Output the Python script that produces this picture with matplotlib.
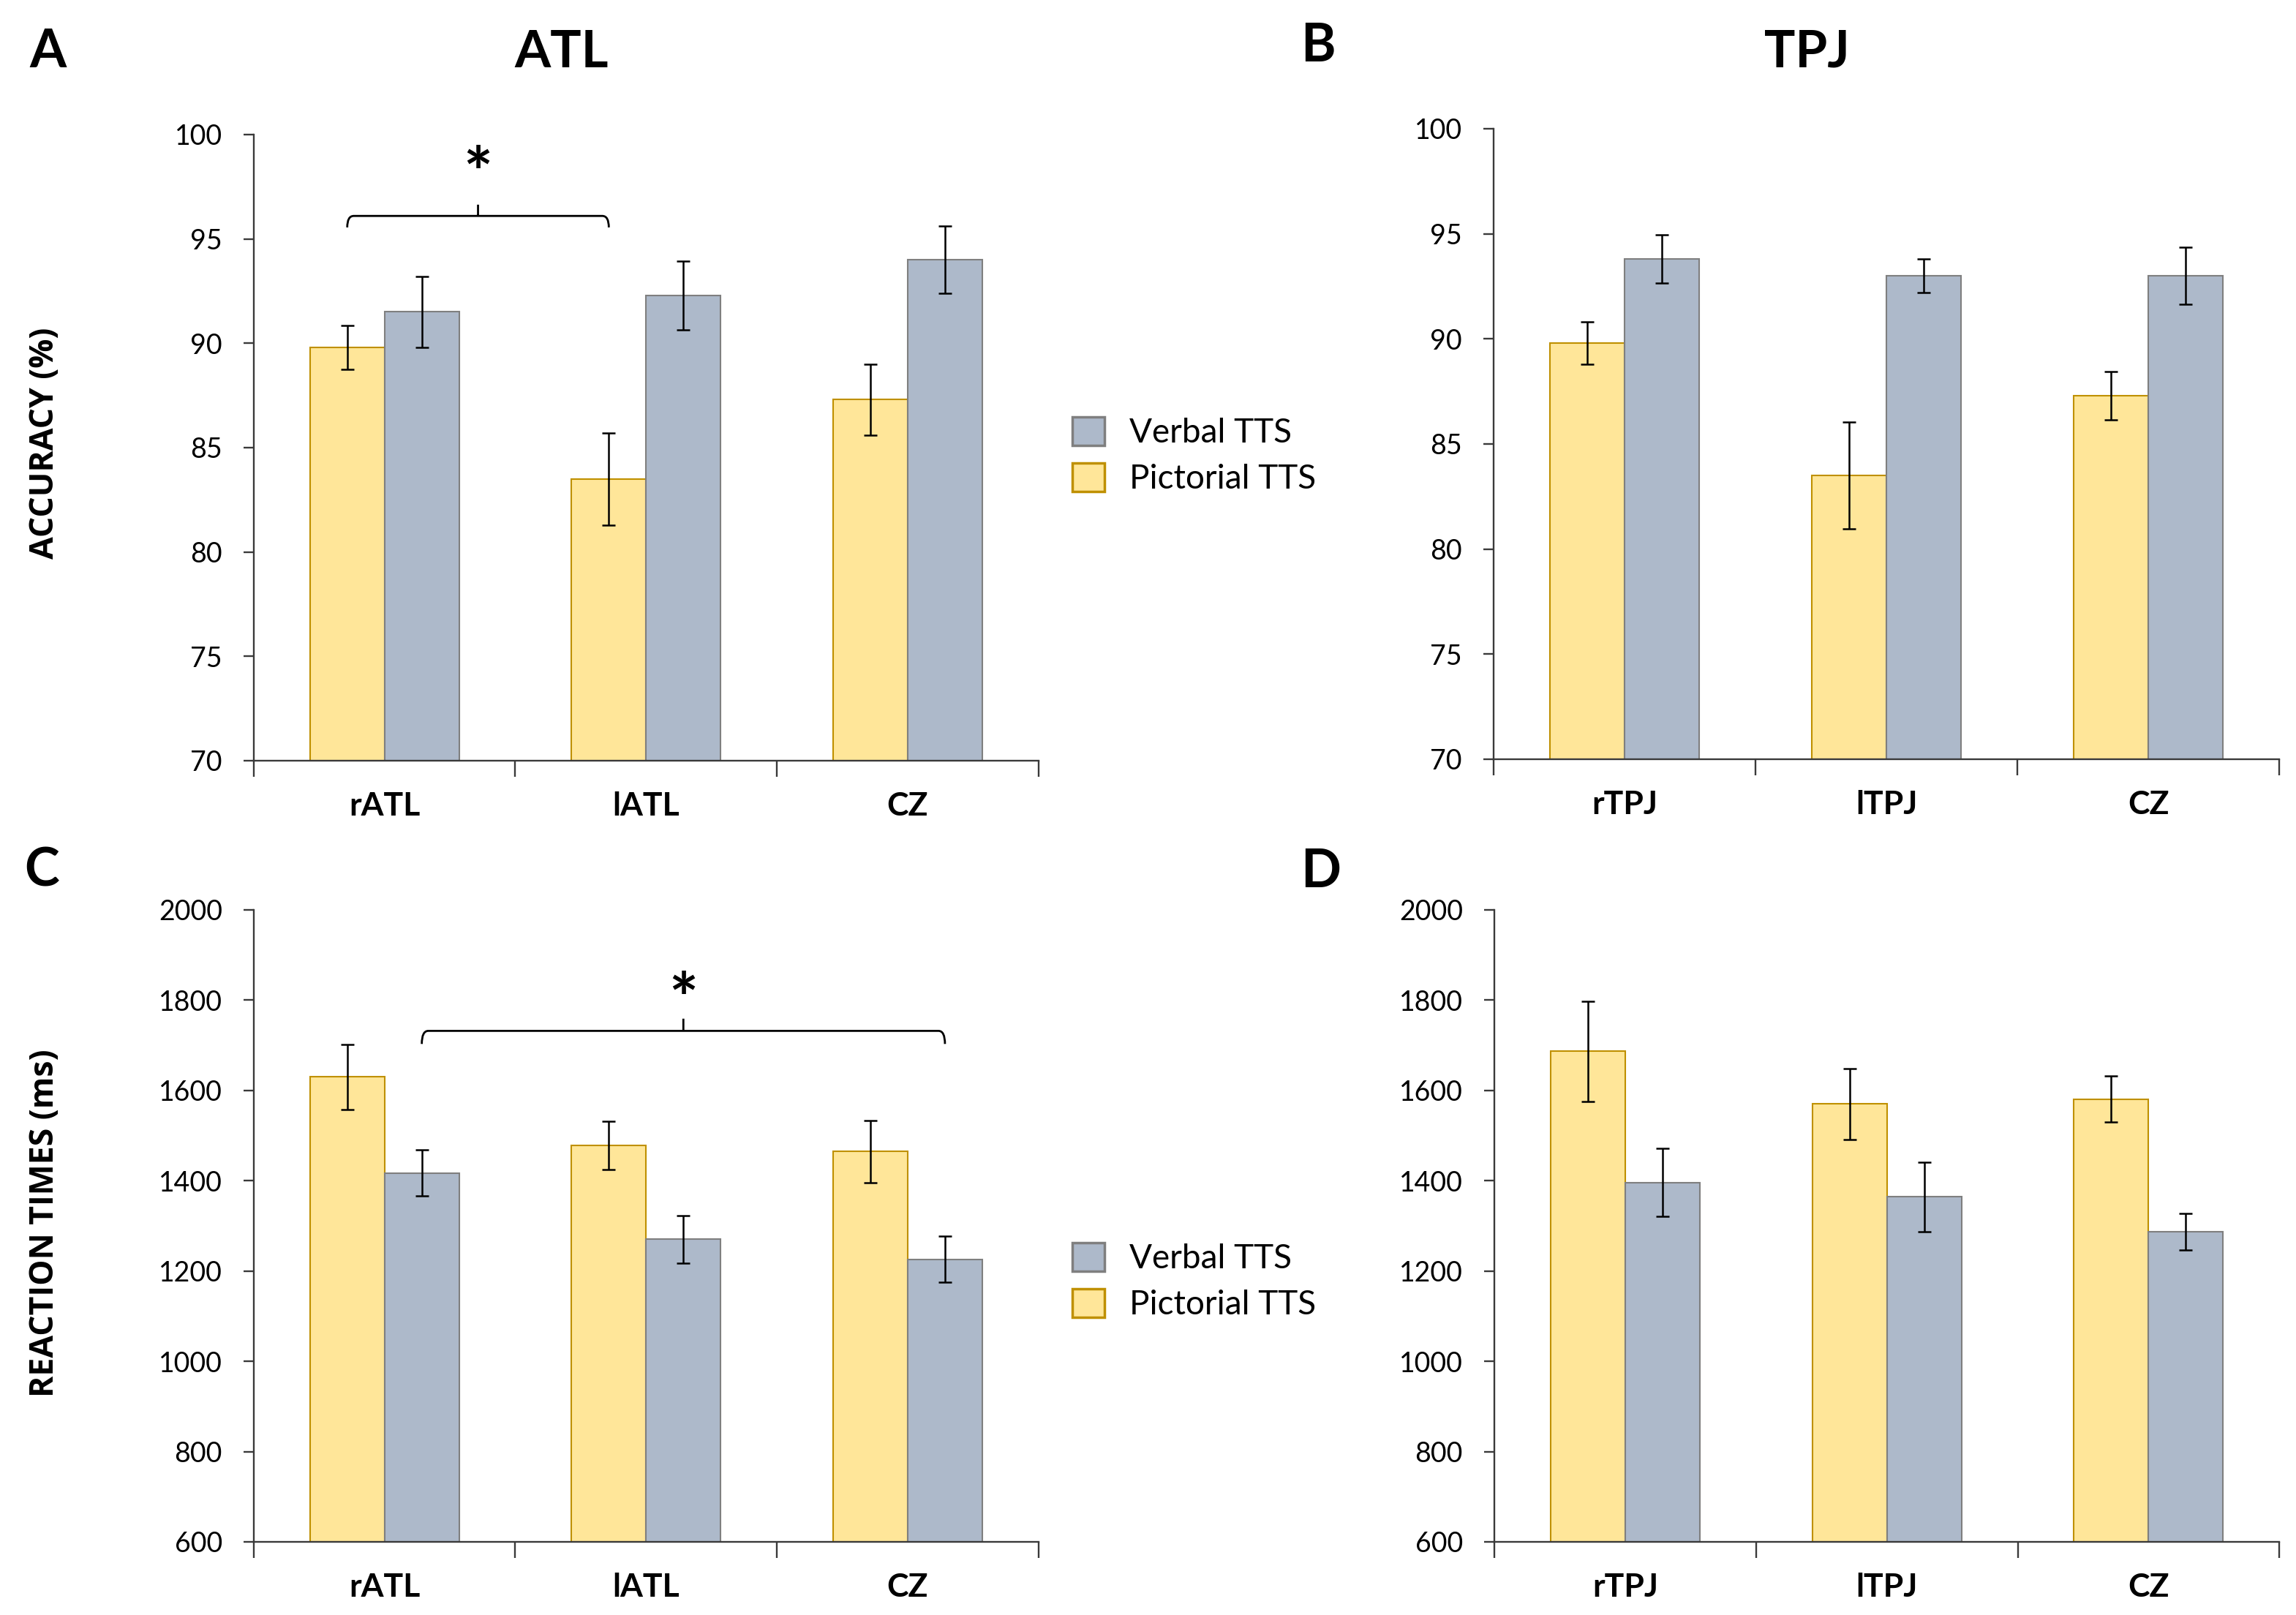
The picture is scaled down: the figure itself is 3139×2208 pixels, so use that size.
import numpy as np
import matplotlib.pyplot as plt
from matplotlib.patches import Patch, PathPatch
from matplotlib.path import Path

# categories
cats_atl = ['rATL', 'lATL', 'CZ']
cats_tpj = ['rTPJ', 'lTPJ', 'CZ']
series_names = ['Verbal TTS', 'Pictorial TTS']

# accuracy (%), mean and error
acc_atl_pict = [89.8, 83.5, 87.3]
acc_atl_pict_err = [1.05, 2.2, 1.7]
acc_atl_verb = [91.5, 92.3, 94.0]
acc_atl_verb_err = [1.7, 1.65, 1.6]

acc_tpj_pict = [89.8, 83.5, 87.3]
acc_tpj_pict_err = [1.0, 2.55, 1.15]
acc_tpj_verb = [93.8, 93.0, 93.0]
acc_tpj_verb_err = [1.15, 0.8, 1.37]

# reaction times (ms)
rt_atl_pict = [1630, 1478, 1465]
rt_atl_pict_err = [72, 53, 69]
rt_atl_verb = [1417, 1270, 1226]
rt_atl_verb_err = [51, 52, 51]

rt_tpj_pict = [1687, 1570, 1581]
rt_tpj_pict_err = [111, 79, 51]
rt_tpj_verb = [1396, 1364, 1287]
rt_tpj_verb_err = [75, 77, 40]

# colours
pict_fill, pict_edge = '#FFE699', '#BF9000'
verb_fill, verb_edge = '#ADB9CA', '#7F7F7F'
axis_col = '#3a3a3a'

plt.rcParams['font.family'] = ['Lato', 'DejaVu Sans']

fig = plt.figure(figsize=(31.39, 22.08), dpi=100)

bar_w = 0.285


def draw_panel(rect, cats, pict, pict_err, verb, verb_err, ylim, yticks):
    ax = fig.add_axes(rect)
    x = np.arange(len(cats)) + 0.5
    ax.bar(x - bar_w / 2, pict, bar_w, color=pict_fill,
           edgecolor=pict_edge, linewidth=1.5, zorder=2, label=series_names[1])
    ax.bar(x + bar_w / 2, verb, bar_w, color=verb_fill,
           edgecolor=verb_edge, linewidth=1.5, zorder=2, label=series_names[0])
    for xs, ys, es in [(x - bar_w / 2, pict, pict_err), (x + bar_w / 2, verb, verb_err)]:
        ax.errorbar(xs, ys, yerr=es, fmt='none', ecolor='black',
                    elinewidth=1.8, capsize=6.5, capthick=1.8, zorder=3)
    ax.set_xlim(0, len(cats))
    ax.set_ylim(*ylim)
    ax.set_yticks(yticks)
    ax.set_xticks(np.arange(len(cats) + 1))
    ax.set_xticklabels([])
    ax.set_xticks(x, minor=True)
    ax.set_xticklabels(cats, minor=True, fontsize=32, fontweight='bold')
    ax.tick_params(axis='x', which='minor', length=0, pad=30)
    ax.tick_params(axis='x', which='major', length=16, width=1.7, color=axis_col)
    ax.tick_params(axis='y', length=10, width=1.7, color=axis_col,
                   labelsize=27, pad=21)
    for s in ['top', 'right']:
        ax.spines[s].set_visible(False)
    for s in ['left', 'bottom']:
        ax.spines[s].set_color(axis_col)
        ax.spines[s].set_linewidth(1.7)
    ax.spines['left'].set_zorder(4)
    return ax


def bracket(ax, x0, x1, y_end, y_h, y_top, y_star):
    # bracket with rounded ends and a straight spike in the middle
    xm = (x0 + x1) / 2
    rx = 0.025
    verts = [(x0, y_end), (x0, y_h), (x0 + rx, y_h),
             (x1 - rx, y_h), (x1, y_h), (x1, y_end),
             (xm, y_h), (xm, y_top)]
    codes = [Path.MOVETO, Path.CURVE3, Path.CURVE3,
             Path.LINETO, Path.CURVE3, Path.CURVE3,
             Path.MOVETO, Path.LINETO]
    ax.add_patch(PathPatch(Path(verts, codes), facecolor='none', edgecolor='black',
                           lw=2.0, zorder=5, clip_on=False))
    ax.text(xm, y_star, '*', ha='center', va='center', fontsize=68,
            fontweight='bold', color='black')


axA = draw_panel([0.1105, 0.529, 0.3418, 0.3877], cats_atl,
                 acc_atl_pict, acc_atl_pict_err, acc_atl_verb, acc_atl_verb_err,
                 (70, 100), np.arange(70, 101, 5))
axB = draw_panel([0.6505, 0.5299, 0.3422, 0.3904], cats_tpj,
                 acc_tpj_pict, acc_tpj_pict_err, acc_tpj_verb, acc_tpj_verb_err,
                 (70, 100), np.arange(70, 101, 5))
axC = draw_panel([0.1105, 0.0453, 0.3418, 0.3913], cats_atl,
                 rt_atl_pict, rt_atl_pict_err, rt_atl_verb, rt_atl_verb_err,
                 (600, 2000), np.arange(600, 2001, 200))
axD = draw_panel([0.6508, 0.0453, 0.3420, 0.3913], cats_tpj,
                 rt_tpj_pict, rt_tpj_pict_err, rt_tpj_verb, rt_tpj_verb_err,
                 (600, 2000), np.arange(600, 2001, 200))

# significance brackets
bracket(axA, 0.5 - bar_w / 2, 1.5 - bar_w / 2, 95.55, 96.1, 96.64, 97.95)
bracket(axC, 0.5 + bar_w / 2, 2.5 + bar_w / 2, 1703, 1732, 1759, 1795)

# legends
handles = [Patch(facecolor=verb_fill, edgecolor=verb_edge, linewidth=2.5, label=series_names[0]),
           Patch(facecolor=pict_fill, edgecolor=pict_edge, linewidth=2.5, label=series_names[1])]
for ax, y in [(axA, 1 - 623 / 2208), (axC, 1 - 1752 / 2208)]:
    ax.legend(handles=handles, loc='center left', bbox_to_anchor=(1466 / 3139, y),
              bbox_transform=fig.transFigure, frameon=False, fontsize=33,
              handlelength=0.95, handleheight=0.95, handletextpad=0.75,
              labelspacing=0.42, borderpad=0, borderaxespad=0)

# titles and panel letters
fig.text(768 / 3139, 1 - 92 / 2208, 'ATL', ha='center', va='baseline',
         fontsize=51, fontweight='bold')
fig.text(2470 / 3139, 1 - 92 / 2208, 'TPJ', ha='center', va='baseline',
         fontsize=51, fontweight='bold')
for lab, xp, yp in [('A', 40, 92), ('B', 1778, 84), ('C', 33, 1212), ('D', 1778, 1213)]:
    fig.text(xp / 3139, 1 - yp / 2208, lab, ha='left', va='baseline',
             fontsize=52, fontweight='bold')

# y axis labels
fig.text(62 / 3139, 1 - 606 / 2208, 'ACCURACY (%)', rotation=90, ha='center',
         va='center', fontsize=32, fontweight='bold', family=['Open Sans', 'DejaVu Sans'])
fig.text(62 / 3139, 1 - 1672 / 2208, 'REACTION TIMES (ms)', rotation=90, ha='center',
         va='center', fontsize=32, fontweight='bold', family=['Open Sans', 'DejaVu Sans'])

fig.savefig('out.png', dpi=100, facecolor='white')
